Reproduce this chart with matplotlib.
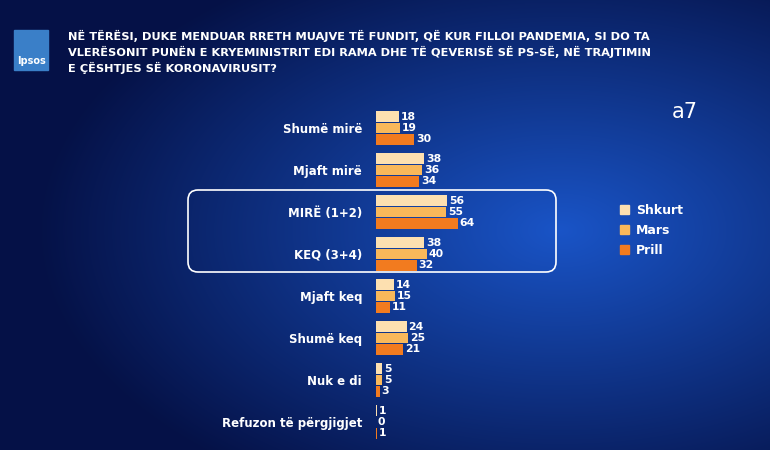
import numpy as np
import matplotlib.pyplot as plt
from matplotlib.patches import FancyBboxPatch, Rectangle

categories = ["Shumë mirë", "Mjaft mirë", "MIRË (1+2)", "KEQ (3+4)", "Mjaft keq", "Shumë keq", "Nuk e di", "Refuzon të përgjigjet"]
shkurt = [18, 38, 56, 38, 14, 24, 5, 1]
mars = [19, 36, 55, 40, 15, 25, 5, 0]
prill = [30, 34, 64, 32, 11, 21, 3, 1]
series = ["Shkurt", "Mars", "Prill"]
colors = ["#fde0b0", "#f9b85a", "#f27b1f"]
title = ("NË TËRËSI, DUKE MENDUAR RRETH MUAJVE TË FUNDIT, QË KUR FILLOI PANDEMIA, SI DO TA\n"
         "VLERËSONIT PUNËN E KRYEMINISTRIT EDI RAMA DHE TË QEVERISË SË PS-SË, NË TRAJTIMIN\n"
         "E ÇËSHTJES SË KORONAVIRUSIT?")

W, H = 770, 450
fig = plt.figure(figsize=(W/100, H/100), dpi=100)
bg = fig.add_axes([0, 0, 1, 1])
yy, xx = np.mgrid[0:H, 0:W]
d = np.sqrt(((xx-560)/520.0)**2 + ((yy-230)/300.0)**2)
t = np.clip(d, 0, 1)[..., None]
c1 = np.array([0.10, 0.33, 0.78]); c0 = np.array([0.02, 0.07, 0.28])
img = c1*(1-t) + c0*t
bg.imshow(img, extent=[0, W, H, 0], aspect='auto')
bg.set_xlim(0, W); bg.set_ylim(H, 0); bg.axis('off')

# logo
bg.add_patch(Rectangle((14, 30), 34, 40, color="#3a7fc8"))
bg.text(31, 66, "Ipsos", color="white", fontsize=7, ha="center", va="bottom", fontweight="bold")
bg.text(68, 52, title, color="white", fontsize=8.2, fontweight="bold", va="center", ha="left", linespacing=1.35)
bg.text(672, 112, "a7", color="white", fontsize=15, va="center", ha="left")
bg.add_patch(FancyBboxPatch((188, 190), 368, 82, boxstyle="round,pad=0,rounding_size=10",
                            fill=False, ec="white", lw=1.2))
for i, (s, c) in enumerate(zip(series, colors)):
    y = 210 + 20*i
    bg.add_patch(Rectangle((620, y-5), 9, 9, color=c))
    bg.text(636, y, s, color="white", fontsize=9, fontweight="bold", va="center")

ax = fig.add_axes([376/W, 1-443/H, 130/W, 336/H])
ax.patch.set_alpha(0)
y = np.arange(len(categories))
h = 0.27
for k, (vals, c) in enumerate(zip([shkurt, mars, prill], colors)):
    pos = y + (k-1)*h
    ax.barh(pos, vals, height=h*0.92, color=c)
    for p, v in zip(pos, vals):
        ax.text(v+1.5, p, str(v), color="white", fontsize=7.8, fontweight="bold", va="center")
ax.set_xlim(0, 102)
ax.set_ylim(7.5, -0.5)
ax.set_yticks(y)
ax.set_yticklabels(categories, color="white", fontsize=8.5, fontweight="bold")
ax.tick_params(length=0, pad=10)
ax.set_xticks([])
for sp in ax.spines.values():
    sp.set_visible(False)
fig.savefig("out.png", dpi=100)
